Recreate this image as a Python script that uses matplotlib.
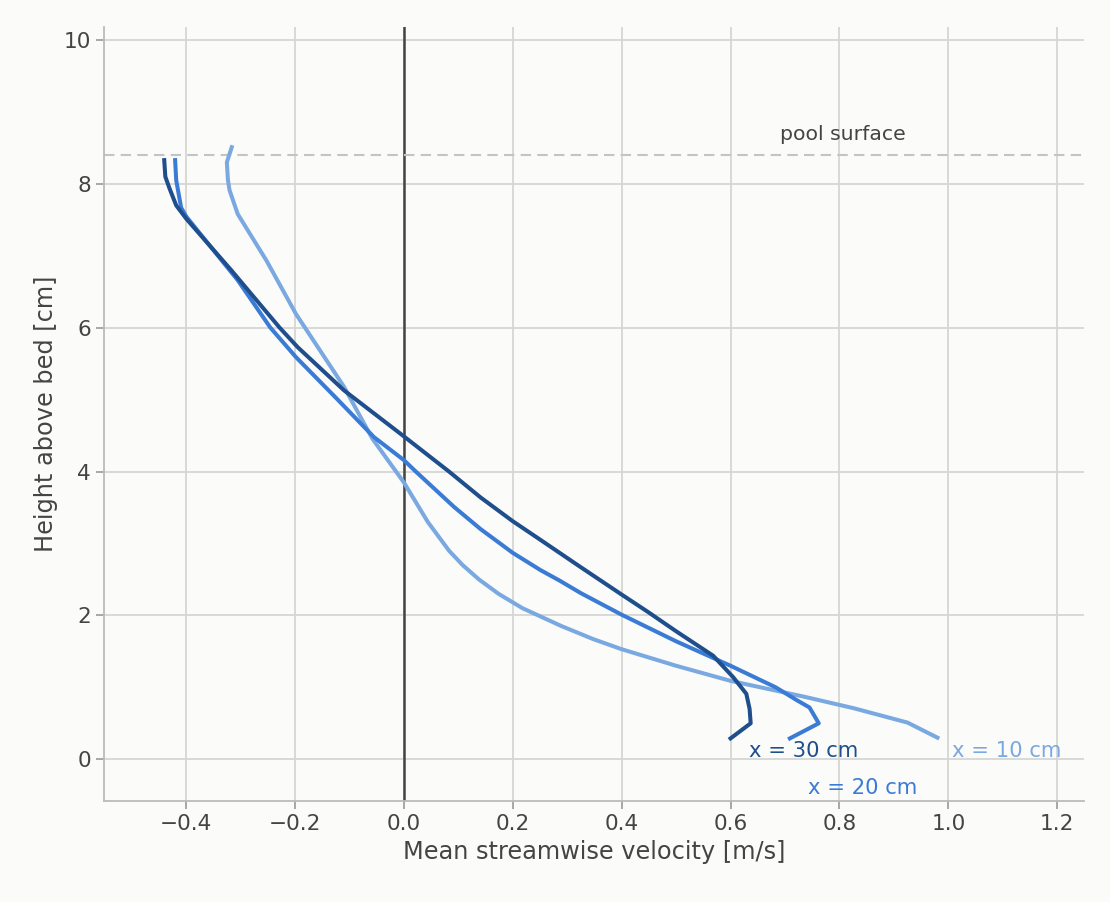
import numpy as np
import matplotlib.pyplot as plt

# velocity profiles, x = 30 cm (dark), 20 cm (mid), 10 cm (light)
z30 = [0.29, 0.50, 0.70, 0.91, 1.14, 1.44, 1.78, 2.05, 2.29, 2.67, 3.05, 3.31, 3.64, 4.00, 4.49, 5.13, 5.73, 6.00, 6.80, 7.51, 7.70, 7.93, 8.10, 8.33]
u30 = [0.600, 0.637, 0.635, 0.629, 0.605, 0.568, 0.500, 0.448, 0.400, 0.325, 0.251, 0.200, 0.141, 0.083, 0.0, -0.110, -0.195, -0.228, -0.317, -0.399, -0.418, -0.430, -0.438, -0.440]

z20 = [0.29, 0.50, 0.72, 0.82, 1.00, 1.30, 1.64, 2.01, 2.31, 2.48, 2.63, 2.87, 3.20, 3.51, 4.00, 4.16, 4.48, 5.02, 5.59, 6.00, 6.66, 7.54, 7.67, 8.05, 8.33]
u20 = [0.709, 0.762, 0.745, 0.722, 0.683, 0.600, 0.500, 0.400, 0.325, 0.287, 0.251, 0.200, 0.141, 0.092, 0.022, 0.0, -0.055, -0.124, -0.198, -0.245, -0.305, -0.399, -0.409, -0.418, -0.420]

z10 = [0.30, 0.51, 0.71, 0.87, 1.09, 1.30, 1.53, 1.67, 1.85, 2.10, 2.30, 2.50, 2.70, 2.90, 3.30, 3.85, 4.46, 5.18, 6.19, 6.93, 7.58, 7.91, 8.05, 8.30, 8.51]
u10 = [0.980, 0.925, 0.826, 0.735, 0.600, 0.500, 0.400, 0.348, 0.290, 0.218, 0.174, 0.138, 0.108, 0.083, 0.044, 0.0, -0.058, -0.110, -0.198, -0.252, -0.305, -0.320, -0.323, -0.325, -0.316]

pool_level = 8.4
c_dark, c_mid, c_light = '#1f4e8c', '#3a7bd5', '#7aa8e0'
txt = '#444444'

fig, ax = plt.subplots(figsize=(11.1, 9.02), dpi=100)
fig.patch.set_facecolor('#fbfbf9')
ax.set_facecolor('#fbfbf9')

ax.grid(True, color='#d6d6d3', lw=1.3)
ax.set_axisbelow(True)
ax.axvline(0, color='#444444', lw=1.8, zorder=2)
ax.axhline(pool_level, color='#c4c4c4', lw=1.5, ls=(0, (5, 3)), zorder=2)
ax.text(0.69, 8.55, 'pool surface', color=txt, fontsize=14.7, va='bottom')

ax.plot(u10, z10, color=c_light, lw=2.9, zorder=3)
ax.plot(u20, z20, color=c_mid, lw=2.9, zorder=3)
ax.plot(u30, z30, color=c_dark, lw=2.9, zorder=3)

ax.text(0.633, 0.12, 'x = 30 cm', color=c_dark, fontsize=15.2, va='center')
ax.text(1.007, 0.12, 'x = 10 cm', color=c_light, fontsize=15.2, va='center')
ax.text(0.743, -0.40, 'x = 20 cm', color=c_mid, fontsize=15.2, va='center')

ax.set_xlim(-0.55, 1.25)
ax.set_ylim(-0.58, 10.18)
ax.set_xticks(np.arange(-0.4, 1.21, 0.2))
ax.set_yticks([0, 2, 4, 6, 8, 10])
ax.set_xlabel('Mean streamwise velocity [m/s]', color=txt, fontsize=17.3)
ax.set_ylabel('Height above bed [cm]', color=txt, fontsize=17.3)
ax.tick_params(colors='#999999', labelcolor=txt, labelsize=15.6, length=6, width=1.2)
for s in ['top', 'right']:
    ax.spines[s].set_visible(False)
for s in ['left', 'bottom']:
    ax.spines[s].set_color('#bbbbbb')
    ax.spines[s].set_linewidth(1.3)

fig.subplots_adjust(left=0.094, right=0.977, bottom=0.112, top=0.97)
fig.savefig('out.png', dpi=100, facecolor=fig.get_facecolor())
